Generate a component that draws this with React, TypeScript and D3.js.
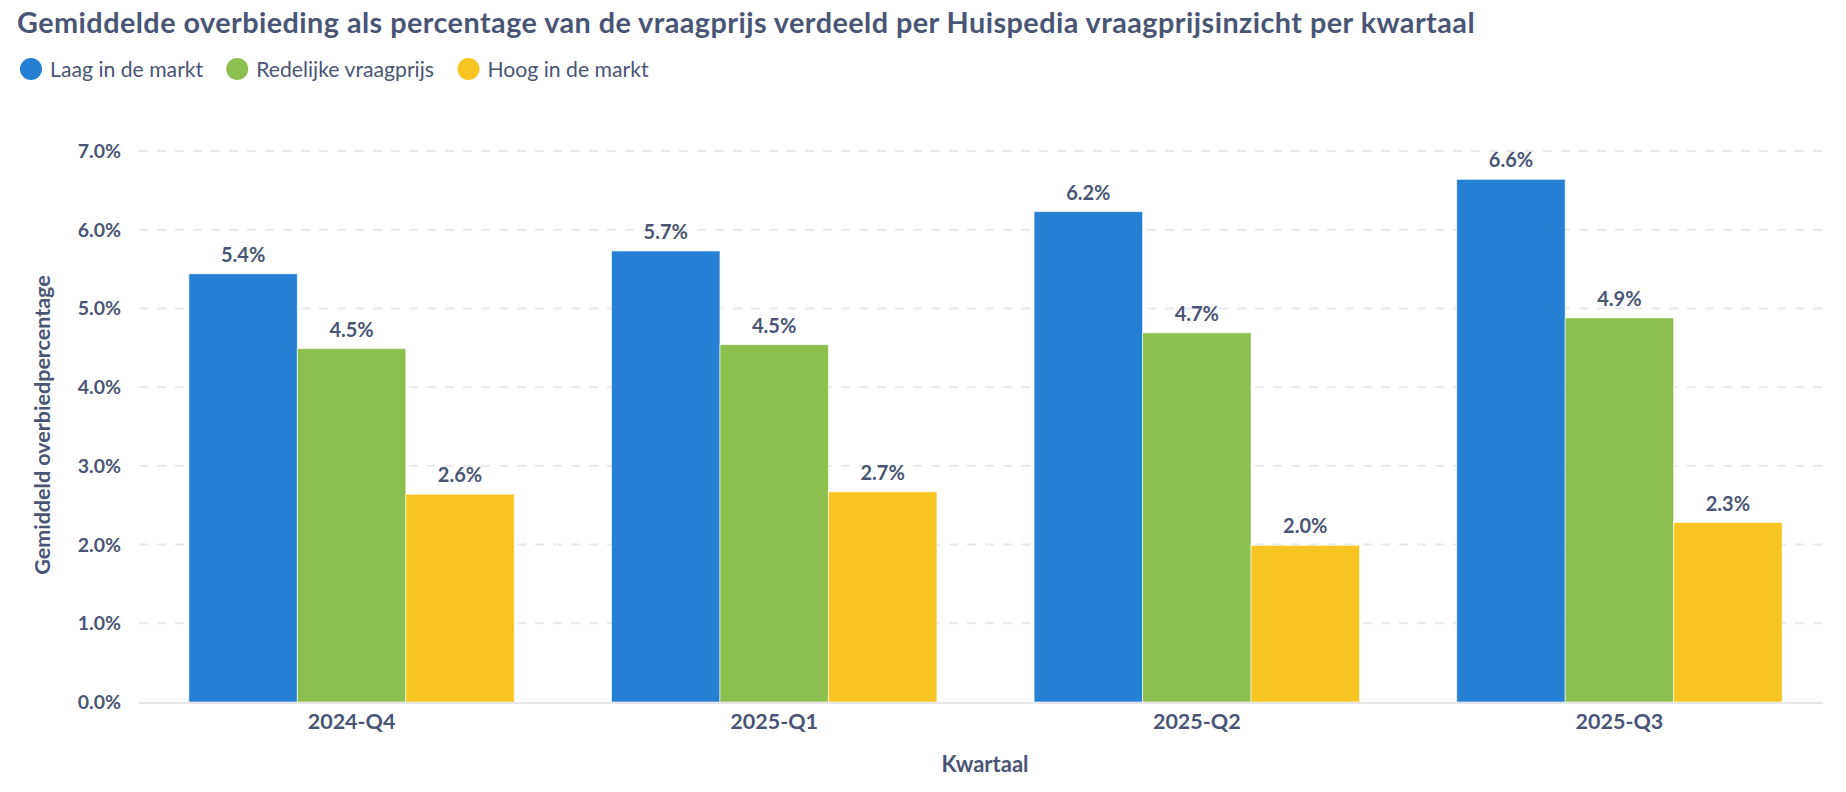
import * as d3 from "d3";

const quarters = ["2024-Q4", "2025-Q1", "2025-Q2", "2025-Q3"];
const seriesNames = ["Laag in de markt", "Redelijke vraagprijs", "Hoog in de markt"];
const seriesColors = ["#2580d4", "#8bbf4e", "#f8c421"];
const laag = [5.44, 5.73, 6.23, 6.64];
const redelijk = [4.49, 4.54, 4.69, 4.88];
const hoog = [2.64, 2.67, 1.99, 2.28];
const yTicks = [0, 1, 2, 3, 4, 5, 6, 7];

const W = 1846;
const H = 792;
const textColor = "#4a5575";
const font = "Lato, 'Noto Sans', sans-serif";

// rough text width via canvas, used only for legend spacing
function measure(text: string, size: number) {
  const ctx = document.createElement("canvas").getContext("2d");
  if (!ctx) return text.length * size * 0.47;
  ctx.font = `${size}px Lato`;
  return ctx.measureText(text).width;
}

export default function App() {
  const values = [laag, redelijk, hoog];
  const margin = { left: 139, right: 14 };

  const x = d3
    .scaleBand<string>()
    .domain(quarters)
    .range([margin.left, W - margin.right])
    .paddingInner(0.23)
    .paddingOuter(0.118);

  const xs = d3
    .scaleBand<string>()
    .domain(seriesNames)
    .range([0, x.bandwidth()]);

  const y = d3.scaleLinear().domain([0, 7]).range([702, 151]);

  const legendSize = 21.2;
  const legendX: number[] = [];
  let cx = 31;
  seriesNames.forEach((name) => {
    legendX.push(cx);
    cx += 19 + measure(name, legendSize) + 34;
  });

  return (
    <>
      <style>{`body{margin:0}`}</style>
      <svg width={W} height={H} style={{ display: "block", fontFamily: font }}>
        <text
          x={17}
          y={33}
          fontSize={28.8}
          letterSpacing={0.45}
          fontWeight={700}
          fill={textColor}
        >
          Gemiddelde overbieding als percentage van de vraagprijs verdeeld per Huispedia vraagprijsinzicht per kwartaal
        </text>

        {/* Legend */}
        {seriesNames.map((name, i) => (
          <g key={name} transform={`translate(${legendX[i]},69)`}>
            <circle r={11} fill={seriesColors[i]} />
            <text x={19} y={8} fontSize={legendSize} fill={textColor}>
              {name}
            </text>
          </g>
        ))}

        {/* Grid */}
        {yTicks.map((t) => (
          <g key={t}>
            {t > 0 && (
              <line
                x1={margin.left}
                x2={1823}
                y1={y(t)}
                y2={y(t)}
                stroke="#e9e9ec"
                strokeWidth={2}
                strokeDasharray="9,9"
              />
            )}
            <text
              x={121}
              y={y(t) + 7}
              textAnchor="end"
              fontSize={19.5}
              fontWeight={700}
              fill={textColor}
            >
              {`${t.toFixed(1)}%`}
            </text>
          </g>
        ))}

        {/* Bars */}
        {quarters.map((q, qi) => (
          <g key={q} transform={`translate(${x(q)},0)`}>
            {seriesNames.map((s, si) => {
              const v = values[si][qi];
              const bx = xs(s)!;
              return (
                <g key={s}>
                  <rect
                    x={bx}
                    y={y(v)}
                    width={xs.bandwidth()}
                    height={y(0) - y(v)}
                    fill={seriesColors[si]}
                    stroke="#ffffff"
                    strokeOpacity={0.6}
                    strokeWidth={1}
                  />
                  <text
                    x={bx + xs.bandwidth() / 2}
                    y={y(v) - 12}
                    textAnchor="middle"
                    fontSize={20}
                    fontWeight={700}
                    fill={textColor}
                  >
                    {`${v.toFixed(1)}%`}
                  </text>
                </g>
              );
            })}
            <text
              x={x.bandwidth() / 2}
              y={729}
              textAnchor="middle"
              fontSize={21.5}
              fontWeight={700}
              fill={textColor}
            >
              {q}
            </text>
          </g>
        ))}

        {/* Baseline */}
        <line
          x1={margin.left}
          x2={1823}
          y1={y(0) + 1}
          y2={y(0) + 1}
          stroke="#e6e6e8"
          strokeWidth={2}
        />

        <text
          x={985}
          y={772}
          textAnchor="middle"
          fontSize={22}
          fontWeight={700}
          fill={textColor}
        >
          Kwartaal
        </text>
        <text
          transform={`translate(50,425) rotate(-90)`}
          textAnchor="middle"
          fontSize={21.5}
          fontWeight={700}
          fill={textColor}
        >
          Gemiddeld overbiedpercentage
        </text>
      </svg>
    </>
  );
}
